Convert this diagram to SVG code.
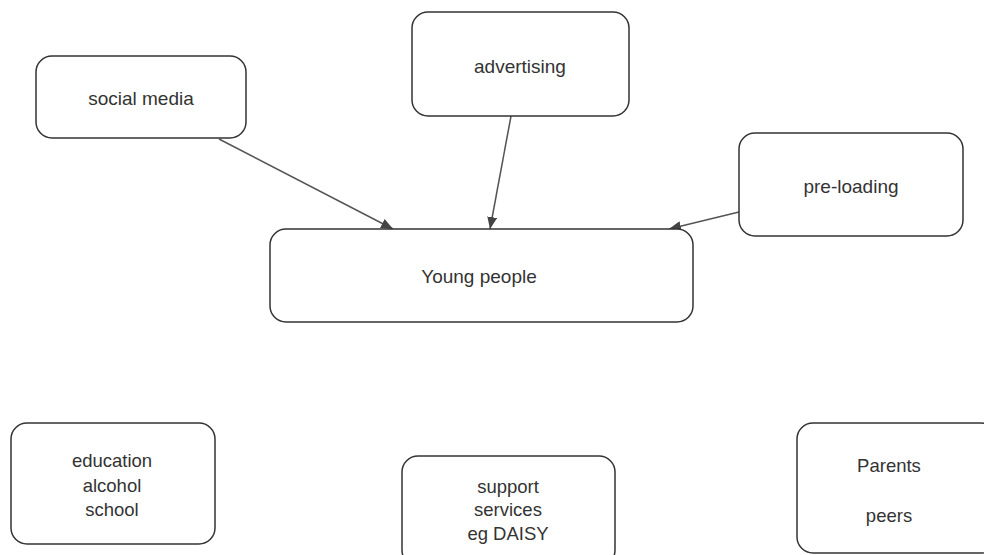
<svg xmlns="http://www.w3.org/2000/svg" width="984" height="555" viewBox="0 0 984 555">
<style>
.box{fill:#fff;stroke:#333;stroke-width:1.5}
.t{font-family:"Liberation Sans",Arial,sans-serif;font-size:19px;fill:#333;text-anchor:middle}
.s{font-size:18.5px}
.c{stroke:#555;stroke-width:1.5;fill:none;marker-end:url(#ah)}
</style>
<defs>
<marker id="ah" viewBox="0 0 12 10" refX="12" refY="5" markerWidth="12" markerHeight="10" markerUnits="userSpaceOnUse" orient="auto">
<path d="M0,0 L12,5 L0,10 z" fill="#444"/>
</marker>
</defs>
<rect width="984" height="555" fill="#fff"/>
<g id="connectors">
<line class="c" x1="219" y1="139" x2="393" y2="229"/>
<line class="c" x1="511" y1="116" x2="490" y2="229"/>
<line class="c" x1="739" y1="212" x2="669" y2="229"/>
</g>
<g id="social-media">
<rect class="box" x="36" y="56" width="210" height="82" rx="16"/>
<text class="t" x="141" y="105">social media</text>
</g>
<g id="advertising">
<rect class="box" x="412" y="12" width="217" height="104" rx="16"/>
<text class="t" x="520" y="73">advertising</text>
</g>
<g id="pre-loading">
<rect class="box" x="739" y="133" width="224" height="103" rx="16"/>
<text class="t" x="851" y="193">pre-loading</text>
</g>
<g id="young-people">
<rect class="box" x="270" y="229" width="423" height="93" rx="16"/>
<text class="t" x="479" y="283">Young people</text>
</g>
<g id="education">
<rect class="box" x="11" y="423" width="204" height="121" rx="16"/>
<text class="t s" x="112" y="467">education</text>
<text class="t s" x="112" y="492">alcohol</text>
<text class="t s" x="112" y="516">school</text>
</g>
<g id="support">
<rect class="box" x="402" y="456" width="213" height="110" rx="16"/>
<text class="t s" x="508" y="493">support</text>
<text class="t s" x="508" y="516">services</text>
<text class="t s" x="508" y="540">eg DAISY</text>
</g>
<g id="parents">
<rect class="box" x="797" y="423" width="200" height="130" rx="16"/>
<text class="t s" x="889" y="472">Parents</text>
<text class="t s" x="889" y="522">peers</text>
</g>
</svg>
